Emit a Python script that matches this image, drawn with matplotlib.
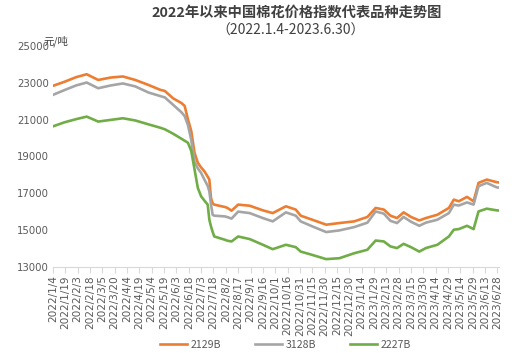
import matplotlib
matplotlib.use("Agg")
import matplotlib.pyplot as plt
import matplotlib.dates as mdates
import numpy as np
import datetime as dt

plt.rcParams['font.family'] = ['Noto Sans CJK SC', 'DejaVu Sans']

# days after 2022/1/4
days = [0, 14, 28, 41, 55, 70, 85, 100, 116, 130, 136, 146, 156, 160, 164, 168,
        172, 176, 180, 184, 188, 190, 192, 194, 196, 209, 212, 217, 225, 239,
        255, 267, 283, 295, 301, 315, 332, 348, 366, 382, 392, 402, 410, 418,
        426, 435, 445, 453, 467, 481, 487, 493, 503, 511, 517, 527, 539, 542]

s2129 = [22830, 23050, 23300, 23460, 23150, 23280, 23340, 23150, 22880, 22620,
         22550, 22150, 21900, 21740, 21010, 20380, 19200, 18650, 18400, 18190,
         17900, 17740, 16740, 16450, 16380, 16250, 16200, 16050, 16380, 16320,
         16070, 15920, 16290, 16110, 15780, 15560, 15290, 15380, 15470, 15710,
         16200, 16110, 15780, 15650, 15960, 15710, 15520, 15650, 15830, 16200,
         16650, 16560, 16800, 16560, 17560, 17740, 17600, 17580]

s3128 = [22340, 22600, 22850, 23010, 22700, 22850, 22960, 22800, 22470, 22280,
         22200, 21800, 21400, 21190, 20700, 19900, 18700, 18350, 18100, 17740,
         17400, 17100, 16400, 15830, 15780, 15740, 15700, 15620, 16000, 15920,
         15650, 15470, 15960, 15780, 15470, 15200, 14890, 14980, 15160, 15400,
         16010, 15890, 15500, 15380, 15710, 15450, 15230, 15400, 15560, 15920,
         16380, 16330, 16500, 16380, 17380, 17560, 17320, 17300]

s2227 = [20630, 20850, 21020, 21160, 20890, 20980, 21070, 20950, 20740, 20560,
         20470, 20230, 19960, 19850, 19740, 19300, 18300, 17290, 16830, 16600,
         16380, 15560, 15200, 14900, 14650, 14470, 14420, 14380, 14650, 14510,
         14200, 13960, 14200, 14070, 13830, 13650, 13420, 13470, 13740, 13930,
         14430, 14380, 14110, 14020, 14250, 14070, 13830, 14020, 14200, 14650,
         15020, 15050, 15230, 15050, 16010, 16160, 16070, 16060]

names = ['2129B', '3128B', '2227B']
colors = ['#ED7D31', '#A5A5A5', '#70AD47']

start = dt.date(2022, 1, 4)
dates = [start + dt.timedelta(days=d) for d in days]

fig = plt.figure(figsize=(5.14, 3.53), dpi=100)
ax = fig.add_axes([0.103, 0.244, 0.868, 0.626])

for vals, name, c in zip([s2129, s3128, s2227], names, colors):
    ax.plot(dates, vals, color=c, lw=1.9, label=name, solid_joinstyle='round')

ax.set_ylim(13000, 25000)
ax.set_yticks(np.arange(13000, 25001, 2000))
ax.set_xlim(start, start + dt.timedelta(days=542))

ticks = [start + dt.timedelta(days=15 * k) for k in range(37)]
ax.set_xticks(ticks)
ax.set_xticklabels([f"{t.year}/{t.month}/{t.day}" for t in ticks],
                   rotation=90, fontsize=7.6, color='#595959',
                   family='DejaVu Sans')
ax.tick_params(axis='x', length=4, color='#D9D9D9', pad=2)
ax.tick_params(axis='y', length=0, labelsize=7.3, labelcolor='#595959', pad=3)
for lab in ax.get_yticklabels():
    lab.set_family('DejaVu Sans')

for s in ['top', 'right', 'left']:
    ax.spines[s].set_visible(False)
ax.spines['bottom'].set_color('#D9D9D9')

fig.text(0.578, 0.965, '2022年以来中国棉花价格指数代表品种走势图',
         ha='center', va='center', fontsize=10.3, fontweight='bold', color='#404040')
fig.text(0.565, 0.912, '（2022.1.4-2023.6.30）', ha='center', va='center',
         fontsize=10, color='#404040')
fig.text(0.085, 0.882, '元/吨', ha='left', va='center', fontsize=7.5, color='#404040')

fig.legend(loc='lower center', bbox_to_anchor=(0.555, -0.018), ncol=3,
           frameon=False, fontsize=7.6, handlelength=2.6, columnspacing=3.2,
           handletextpad=0.3, labelcolor='#595959')

fig.savefig('out.png', dpi=100)
